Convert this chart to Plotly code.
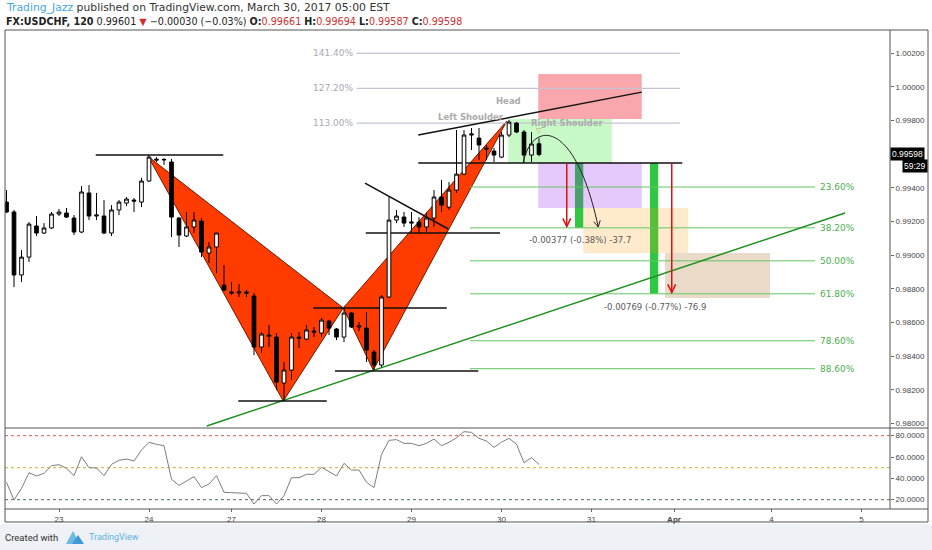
import plotly.graph_objects as go

# ---------------- data ----------------
bar_index = list(range(72))
open_ = [0.99315, 0.99256, 0.98882, 0.98988, 0.99173, 0.99131, 0.99161, 0.99244, 0.99250, 0.99220,
         0.99137, 0.99369, 0.99232, 0.99232, 0.99131, 0.99268, 0.99309, 0.99327, 0.99315, 0.99440,
         0.99570, 0.99565, 0.99553, 0.99220, 0.99113, 0.99167, 0.99202, 0.99012, 0.99048, 0.98822,
         0.98781, 0.98775, 0.98781, 0.98757, 0.98454, 0.98525, 0.98513, 0.98240, 0.98317, 0.98513,
         0.98501, 0.98549, 0.98537, 0.98608, 0.98561, 0.98513, 0.98656, 0.98573, 0.98567, 0.98424,
         0.98347, 0.98751, 0.99208, 0.99226, 0.99190, 0.99196, 0.99167, 0.99220, 0.99345, 0.99285,
         0.99386, 0.99481, 0.99713, 0.99695, 0.99636, 0.99618, 0.99582, 0.99713, 0.99784, 0.99731,
         0.99594, 0.99661]
high_ = [0.99386, 0.99268, 0.99030, 0.99196, 0.99232, 0.99190, 0.99256, 0.99274, 0.99280, 0.99238,
         0.99410, 0.99416, 0.99369, 0.99327, 0.99297, 0.99327, 0.99345, 0.99339, 0.99458, 0.99594,
         0.99582, 0.99576, 0.99571, 0.99226, 0.99256, 0.99256, 0.99220, 0.99078, 0.99131, 0.98941,
         0.98840, 0.98828, 0.98792, 0.98775, 0.98543, 0.98585, 0.98537, 0.98365, 0.98537, 0.98543,
         0.98585, 0.98573, 0.98626, 0.98614, 0.98567, 0.98686, 0.98662, 0.98602, 0.98662, 0.98436,
         0.98763, 0.99345, 0.99268, 0.99256, 0.99256, 0.99226, 0.99250, 0.99386, 0.99446, 0.99434,
         0.99743, 0.99743, 0.99755, 0.99755, 0.99654, 0.99636, 0.99731, 0.99802, 0.99790, 0.99743,
         0.99731, 0.99694]
low_ = [0.99250, 0.98810, 0.98840, 0.98959, 0.99113, 0.99125, 0.99155, 0.99232, 0.99220, 0.99119,
        0.99131, 0.99208, 0.99208, 0.99125, 0.99113, 0.99238, 0.99291, 0.99256, 0.99285, 0.99434,
        0.99553, 0.99535, 0.99107, 0.99048, 0.99107, 0.99131, 0.98988, 0.98953, 0.98893, 0.98786,
        0.98763, 0.98751, 0.98751, 0.98406, 0.98418, 0.98454, 0.98198, 0.98133, 0.98258, 0.98448,
        0.98495, 0.98513, 0.98513, 0.98525, 0.98495, 0.98483, 0.98567, 0.98549, 0.98365, 0.98317,
        0.98335, 0.98745, 0.99190, 0.99167, 0.99137, 0.99131, 0.99137, 0.99167, 0.99256, 0.99268,
        0.99369, 0.99475, 0.99624, 0.99565, 0.99565, 0.99553, 0.99576, 0.99701, 0.99725, 0.99547,
        0.99553, 0.99587]
close_ = [0.99256, 0.98882, 0.98988, 0.99184, 0.99131, 0.99161, 0.99244, 0.99256, 0.99226, 0.99137,
          0.99375, 0.99232, 0.99238, 0.99131, 0.99268, 0.99315, 0.99333, 0.99321, 0.99440, 0.99582,
          0.99565, 0.99568, 0.99226, 0.99119, 0.99167, 0.99208, 0.99018, 0.99048, 0.99131, 0.98792,
          0.98775, 0.98781, 0.98775, 0.98454, 0.98531, 0.98519, 0.98246, 0.98317, 0.98513, 0.98507,
          0.98555, 0.98543, 0.98614, 0.98567, 0.98513, 0.98656, 0.98573, 0.98579, 0.98436, 0.98347,
          0.98751, 0.99208, 0.99232, 0.99190, 0.99196, 0.99167, 0.99220, 0.99345, 0.99297, 0.99386,
          0.99481, 0.99713, 0.99719, 0.99654, 0.99630, 0.99594, 0.99713, 0.99790, 0.99731, 0.99594,
          0.99660, 0.99598]
rsi = [36.3, 19.7, 30.6, 45.3, 42.2, 44.7, 51.9, 52.8, 49.4, 42.5,
       60.3, 50.0, 49.7, 42.5, 53.1, 56.9, 58.1, 56.3, 66.6, 73.8,
       71.9, 70.6, 39.1, 33.4, 37.5, 41.6, 31.3, 34.7, 42.5, 26.9,
       26.6, 26.6, 25.9, 15.9, 23.8, 23.8, 15.9, 23.8, 40.6, 40.6,
       43.8, 43.8, 50.3, 46.3, 42.2, 54.1, 47.8, 47.8, 36.3, 31.3,
       62.5, 75.6, 76.3, 72.8, 72.8, 70.6, 72.8, 76.9, 70.6, 73.8,
       78.0, 83.8, 83.1, 77.5, 75.0, 69.0, 74.0, 77.5, 72.0, 54.7,
       59.4, 53.1]
rsi_levels = [80, 50, 20]

day_ticks = [7, 19, 30, 42, 54, 66, 78, 89, 102, 114]
day_labels = ["23", "24", "27", "28", "29", "30", "31", "<b>Apr</b>", "4", "5"]
price_ticks = [0.980, 0.982, 0.984, 0.986, 0.988, 0.990, 0.992, 0.994, 0.998, 1.000, 1.002]
rsi_ticks = [20, 40, 60, 80]

last_price = 0.99598
countdown = "59:29"

# drawing anchors (bar index, price)
pattern_x = [18.9, 36.9, 44.9, 48.9, 66.7]          # X A B C D
pattern_p = [0.99585, 0.98133, 0.98686, 0.98317, 0.99796]
hline_x0 = [11.9, 30.9, 40.9, 43.8, 47.9, 54.9]
hline_x1 = [28.9, 42.7, 58.7, 62.9, 65.8, 90.1]
hline_p = [0.99594, 0.98133, 0.98686, 0.98311, 0.99131, 0.99547]
tline_x0 = [47.8, 54.9]
tline_p0 = [0.99428, 0.99713]
tline_x1 = [58.9, 84.7]
tline_p1 = [0.99155, 0.99968]
trend_x = [26.7, 111.8]
trend_p = [0.97985, 0.99250]

fib_ext_levels = [1.13, 1.272, 1.414]
fib_ext_labels = ["113.00%", "127.20%", "141.40%"]
fib_ext_base = 0.98136   # A
fib_ext_top = 0.99594    # X
fib_ext_x = [46.7, 89.8]
fib_ret_levels = [0.236, 0.382, 0.5, 0.618, 0.786, 0.886]
fib_ret_labels = ["23.60%", "38.20%", "50.00%", "61.80%", "78.60%", "88.60%"]
fib_ret_hi = 0.99796     # D
fib_ret_lo = 0.98136     # A
fib_ret_x = [61.8, 107.8]

box_x0 = [70.9, 66.9, 70.9, 76.9, 87.8]
box_x1 = [84.7, 80.7, 84.7, 90.9, 101.8]
box_p0 = [0.99808, 0.99547, 0.99280, 0.99012, 0.98745]
box_p1 = [1.00075, 0.99808, 0.99547, 0.99280, 0.99012]

target_bar_x0 = [75.8, 85.8]
target_bar_x1 = [76.9, 86.9]
target_bar_top = [0.99547, 0.99547]
target_bar_bottom = [0.99162, 0.98770]

range_x = [74.7, 88.7]
range_from = [0.99547, 0.99547]
range_to = [0.99170, 0.98778]
range_text = ["-0.00377 (-0.38%) -37.7", "-0.00769 (-0.77%) -76.9"]
range_label_x = [76.5, 86.5]
range_label_p = [0.99089, 0.98692]

curve_x = [68.9, 70.1, 75.8, 78.9]
curve_p = [0.99553, 0.99802, 0.99814, 0.99167]

hs_text = ["Left Shoulder", "Head", "Right Shoulder"]
hs_x = [61.9, 66.9, 74.7]
hs_p = [0.99820, 0.99915, 0.99784]

# ---------------- layout constants ----------------
W, H = 932, 550
PL, PR, PT, PB = 5, 890, 30, 508
X_RANGE = [-0.2, 117.8]
Y_RANGE = [0.97979, 1.00337]
RSI_RANGE = [12.2, 87.2]
MAIN_BOTTOM_PX = 427
RSI_TOP_PX = 428
BAR_PX = (PR - PL) / (X_RANGE[1] - X_RANGE[0])
PRICE_PER_PX = (Y_RANGE[1] - Y_RANGE[0]) / (MAIN_BOTTOM_PX - PT)


def px_x(px):
    return (px - PL) / (PR - PL)


def px_y(py):
    return (PB - py) / (PB - PT)


FRAME = "#555555"
shapes = []


def line(x0, y0, x1, y1, color, width=1, xref="x", yref="y", dash=None, layer="below"):
    d = dict(type="line", x0=x0, y0=y0, x1=x1, y1=y1, xref=xref, yref=yref, layer=layer,
             line=dict(color=color, width=width))
    if dash:
        d["line"]["dash"] = dash
    shapes.append(d)


def rect(x0, y0, x1, y1, fill, xref="x", yref="y", layer="below"):
    shapes.append(dict(type="rect", x0=x0, y0=y0, x1=x1, y1=y1, xref=xref, yref=yref,
                       layer=layer, fillcolor=fill, line=dict(width=0)))


def chevron(tx, tp, dxpx, dypx, color, size=8, spread=0.5, width=1.2):
    # arrow head at (tx,tp) pointing along screen direction (dxpx, dypx)
    import math
    n = math.hypot(dxpx, dypx)
    ux, uy = dxpx / n, dypx / n
    pts = []
    for s in (spread, -spread):
        c, si = math.cos(s), math.sin(s)
        rx, ry = ux * c - uy * si, ux * si + uy * c
        wx = tx - rx * size / BAR_PX
        wp = tp + ry * size * PRICE_PER_PX
        pts.append((wx, wp))
    path = f"M {pts[0][0]},{pts[0][1]} L {tx},{tp} L {pts[1][0]},{pts[1][1]}"
    shapes.append(dict(type="path", path=path, xref="x", yref="y", layer="above",
                       line=dict(color=color, width=width)))


# background band at bottom
rect(px_x(0), px_y(550), px_x(932), px_y(524), "#eef1f5", xref="paper", yref="paper")

# XABCD triangles
X, A, B, C, D = list(zip(pattern_x, pattern_p))
for tri in ((X, A, B), (B, C, D)):
    path = "M {},{} L {},{} L {},{} Z".format(tri[0][0], tri[0][1], tri[1][0], tri[1][1], tri[2][0], tri[2][1])
    shapes.append(dict(type="path", path=path, xref="x", yref="y", layer="below",
                       fillcolor="#ff3b00", line=dict(color="#6a1800", width=1)))

# target bars (under the translucent boxes)
for i in range(2):
    rect(target_bar_x0[i], target_bar_bottom[i], target_bar_x1[i], target_bar_top[i], "#2fc843")

box_colors = ["rgba(242,60,70,0.45)", "rgba(0,230,0,0.22)", "rgba(150,40,235,0.25)",
              "rgba(255,152,0,0.2)", "rgba(170,110,40,0.25)"]
for i in range(5):
    rect(box_x0[i], box_p0[i], box_x1[i], box_p1[i], box_colors[i])

# fib extension (grey)
for lv in fib_ext_levels:
    p = fib_ext_base + lv * (fib_ext_top - fib_ext_base)
    line(fib_ext_x[0], p, fib_ext_x[1], p, "#c4c4d2", 1.2)
# fib retracement (green)
for lv in fib_ret_levels:
    p = fib_ret_hi - lv * (fib_ret_hi - fib_ret_lo)
    line(fib_ret_x[0], p, fib_ret_x[1], p, "#63c663", 1)

# green trend line
line(trend_x[0], trend_p[0], trend_x[1], trend_p[1], "#1f8f1f", 1.5)

# black horizontal and sloped lines
for i in range(len(hline_p)):
    line(hline_x0[i], hline_p[i], hline_x1[i], hline_p[i], "#111111", 1.5)
for i in range(len(tline_x0)):
    line(tline_x0[i], tline_p0[i], tline_x1[i], tline_p1[i], "#111111", 1.5)

# price range arrows
for i in range(2):
    line(range_x[i], range_from[i], range_x[i], range_to[i], "#e01010", 1.5, layer="above")
    chevron(range_x[i], range_to[i], 0, 1, "#e01010", size=9, spread=0.45, width=1.5)

# curved arrow
cpath = "M {},{} C {},{} {},{} {},{}".format(curve_x[0], curve_p[0], curve_x[1], curve_p[1],
                                            curve_x[2], curve_p[2], curve_x[3], curve_p[3])
shapes.append(dict(type="path", path=cpath, xref="x", yref="y", layer="above",
                   line=dict(color="#222222", width=1)))
chevron(curve_x[3], curve_p[3], (curve_x[3] - curve_x[2]) * BAR_PX,
        -(curve_p[3] - curve_p[2]) / PRICE_PER_PX, "#222222", size=7, spread=0.5, width=1)

# RSI levels
rsi_colors = ["#e05555", "#c8b42a", "#4f6f4f"]
for lv, col in zip(rsi_levels, rsi_colors):
    line(0, lv, 1, lv, col, 1, xref="paper", yref="y2", dash="dot")

# frame
right_edge = px_x(928)
line(0, px_y(PT), right_edge, px_y(PT), FRAME, 1, xref="paper", yref="paper", layer="above")
line(0, px_y(RSI_TOP_PX), right_edge, px_y(RSI_TOP_PX), FRAME, 1, xref="paper", yref="paper", layer="above")
line(0, px_y(509), right_edge, px_y(509), FRAME, 1, xref="paper", yref="paper", layer="above")
line(0, px_y(522), right_edge, px_y(522), FRAME, 1, xref="paper", yref="paper", layer="above")
line(0, px_y(PT), 0, px_y(522), FRAME, 1, xref="paper", yref="paper", layer="above")
line(1, px_y(PT), 1, px_y(509), FRAME, 1, xref="paper", yref="paper", layer="above")
line(right_edge, px_y(PT), right_edge, px_y(522), FRAME, 1, xref="paper", yref="paper", layer="above")

# TradingView logo (approximation)
shapes.append(dict(type="path", xref="paper", yref="paper", layer="above",
                   path="M {},{} L {},{} L {},{} Z".format(px_x(66), px_y(544), px_x(73), px_y(531), px_x(80), px_y(544)),
                   fillcolor="#6fb8e4", line=dict(width=0)))
shapes.append(dict(type="path", xref="paper", yref="paper", layer="above",
                   path="M {},{} L {},{} L {},{} Z".format(px_x(72), px_y(544), px_x(78), px_y(535), px_x(84), px_y(544)),
                   fillcolor="#3d9ad6", line=dict(width=0)))

# ---------------- traces ----------------
candles = go.Candlestick(
    x=bar_index, open=open_, high=high_, low=low_, close=close_,
    increasing=dict(line=dict(color="#000000", width=1), fillcolor="#ffffff"),
    decreasing=dict(line=dict(color="#000000", width=1), fillcolor="#000000"),
    whiskerwidth=0, xaxis="x", yaxis="y", showlegend=False, hoverinfo="skip")
rsi_line = go.Scatter(x=bar_index, y=rsi, mode="lines", xaxis="x2", yaxis="y2",
                      line=dict(color="#7d7d7d", width=1), showlegend=False, hoverinfo="skip")

fig = go.Figure([candles, rsi_line])

# ---------------- annotations ----------------
ann = []
LABEL_FONT = "DejaVu Sans"
for i, lv in enumerate(fib_ext_levels):
    p = fib_ext_base + lv * (fib_ext_top - fib_ext_base)
    ann.append(dict(x=fib_ext_x[0] - 0.3, y=p, xref="x", yref="y", text=fib_ext_labels[i],
                    showarrow=False, xanchor="right", yanchor="middle",
                    font=dict(family=LABEL_FONT, size=9, color="#a9a9b4")))
for i, lv in enumerate(fib_ret_levels):
    p = fib_ret_hi - lv * (fib_ret_hi - fib_ret_lo)
    ann.append(dict(x=fib_ret_x[1] + 0.4, y=p, xref="x", yref="y", text=fib_ret_labels[i],
                    showarrow=False, xanchor="left", yanchor="middle",
                    font=dict(family=LABEL_FONT, size=9, color="#4caf50")))
for i in range(2):
    ann.append(dict(x=range_label_x[i], y=range_label_p[i], xref="x", yref="y", text=range_text[i],
                    showarrow=False, xanchor="center", yanchor="middle",
                    font=dict(family=LABEL_FONT, size=8.5, color="#5a5a5a")))
for i in range(3):
    ann.append(dict(x=hs_x[i], y=hs_p[i], xref="x", yref="y", text="<b>" + hs_text[i] + "</b>",
                    showarrow=False, xanchor="center", yanchor="middle", borderpad=0,
                    font=dict(family=LABEL_FONT, size=8.5, color="#ababab")))
ann.append(dict(x=71, y=0.99740, xref="x", yref="y", text="▽", showarrow=False, borderpad=0,
                font=dict(family=LABEL_FONT, size=7, color="#d2875e")))

# last price / countdown labels
ann.append(dict(x=1.0, y=last_price, xref="paper", yref="y", text=f"{last_price:.5f}",
                showarrow=False, xanchor="left", yanchor="middle", bgcolor="#000000",
                borderpad=1, font=dict(family="Liberation Sans", size=8.5, color="#ffffff")))
ann.append(dict(x=px_x(928), y=px_y(166), xref="paper", yref="paper", text=countdown,
                showarrow=False, xanchor="right", yanchor="middle", bgcolor="#000000",
                borderpad=1, font=dict(family="Liberation Sans", size=8.5, color="#ffffff")))

# header
RED = "#d32f2f"
ann.append(dict(x=px_x(5), y=px_y(7.5), xref="paper", yref="paper", xanchor="left", yanchor="middle",
                showarrow=False, borderpad=0,
                text="<span style='color:#45a6dd'>Trading_Jazz</span> published on TradingView.com, March 30, 2017 05:00 EST",
                font=dict(family="DejaVu Sans", size=10.8, color="#333333")))
ann.append(dict(x=px_x(5), y=px_y(21.5), xref="paper", yref="paper", xanchor="left", yanchor="middle",
                showarrow=False, borderpad=0,
                text=("<b>FX:USDCHF, 120</b> 0.99601 <span style='color:%s'>▼</span> −0.00030 (−0.03%%) "
                      "<b>O:</b><span style='color:%s'>0.99661</span> <b>H:</b><span style='color:%s'>0.99694</span> "
                      "<b>L:</b><span style='color:%s'>0.99587</span> <b>C:</b><span style='color:%s'>0.99598</span>")
                     % (RED, RED, RED, RED, RED),
                font=dict(family="DejaVu Sans", size=9.6, color="#222222")))
# footer
ann.append(dict(x=px_x(3), y=px_y(537), xref="paper", yref="paper", xanchor="left", yanchor="middle",
                showarrow=False, text="Created with",
                font=dict(family="Roboto", size=9.5, color="#333333")))
ann.append(dict(x=px_x(87), y=px_y(537), xref="paper", yref="paper", xanchor="left", yanchor="middle",
                showarrow=False, text="TradingView",
                font=dict(family="Roboto", size=9, color="#5fb2e3")))

main_bottom = px_y(MAIN_BOTTOM_PX)
rsi_top = px_y(RSI_TOP_PX)
TICKFONT = dict(family="Liberation Sans", size=8, color="#444444")

fig.update_layout(
    width=W, height=H,
    margin=dict(l=PL, r=W - PR, t=PT, b=H - PB),
    paper_bgcolor="#ffffff", plot_bgcolor="rgba(0,0,0,0)",
    showlegend=False, hovermode=False,
    xaxis=dict(domain=[0, 1], range=X_RANGE, anchor="y", showticklabels=False, showgrid=False,
               zeroline=False, rangeslider=dict(visible=False), ticks=""),
    yaxis=dict(domain=[main_bottom, 1], range=Y_RANGE, anchor="x", side="right",
               tickvals=price_ticks, ticktext=[f"{v:.5f}" for v in price_ticks],
               ticks="outside", ticklen=3, tickcolor="#666666", tickfont=TICKFONT,
               showgrid=False, zeroline=False, automargin=False),
    xaxis2=dict(domain=[0, 1], range=X_RANGE, anchor="y2", tickvals=day_ticks, ticktext=day_labels,
                ticks="outside", ticklen=3, tickcolor="#666666", tickfont=TICKFONT,
                showgrid=False, zeroline=False, automargin=False),
    yaxis2=dict(domain=[0, rsi_top], range=RSI_RANGE, anchor="x2", side="right",
                tickvals=rsi_ticks, ticktext=[f"{v:.4f}" for v in rsi_ticks],
                ticks="outside", ticklen=3, tickcolor="#666666", tickfont=TICKFONT,
                showgrid=False, zeroline=False, automargin=False),
    shapes=shapes, annotations=ann,
)

fig.write_html("out.html", config={"displayModeBar": False, "staticPlot": True},
               post_script="document.body.style.margin='0';document.body.style.padding='0';"
                           "document.body.style.overflow='hidden';")
